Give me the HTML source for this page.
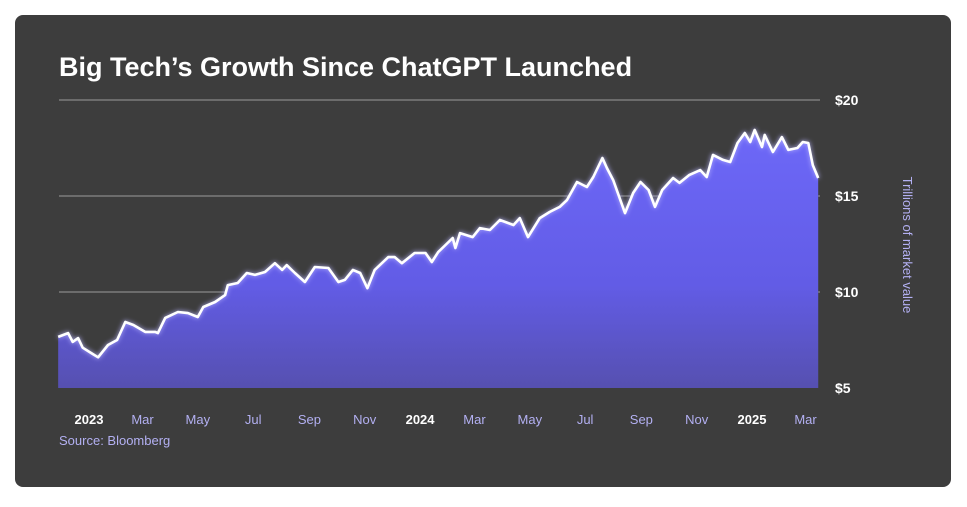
<!DOCTYPE html>
<html><head><meta charset="utf-8">
<style>
body{margin:0;background:#fff;width:967px;height:507px;overflow:hidden;font-family:"Liberation Sans",sans-serif}
#card{position:absolute;left:15px;top:15px;width:936px;height:472px;background:#3d3d3d;border-radius:8px}
</style></head><body>
<div id="card"></div>
<svg id="chart" width="967" height="507" style="position:absolute;left:0;top:0">
<defs>
<linearGradient id="ag" x1="0" y1="0" x2="0" y2="1"><stop offset="0" stop-color="#6d68f8"/><stop offset="0.6" stop-color="#625ce6"/><stop offset="1" stop-color="#5650b0"/></linearGradient>
<filter id="glow" x="-5%" y="-20%" width="110%" height="140%"><feGaussianBlur stdDeviation="2.5" result="b"/><feFlood flood-color="#b8b4ff"/><feComposite in2="b" operator="in" result="g"/><feMerge><feMergeNode in="g"/><feMergeNode in="SourceGraphic"/></feMerge></filter>
</defs>
<text x="59" y="76" fill="#fff" font-size="27" font-weight="bold">Big Tech’s Growth Since ChatGPT Launched</text>
<g id="grid"></g><g id="series"></g><g id="axes"></g>
<text transform="translate(903,245) rotate(90)" text-anchor="middle" fill="#b3b0f2" font-size="13">Trillions of market value</text>
<text x="59" y="445" fill="#b3b0f2" font-size="13">Source: Bloomberg</text>
</svg>
<script>
const days=[-34,-23,-18,-12,-7,3,10,21,31,40,49,62,73,76,84,98,109,120,126,139,150,153,164,174,183,194,205,213,218,227,238,249,264,275,282,291,299,307,315,330,337,345,359,371,378,385,393,401,404,409,423,431,442,453,468,475,484,497,508,519,527,538,549,556,566,571,578,583,591,600,608,617,624,632,644,651,662,674,681,688,699,707,715,723,729,734,742,745,754,764,771,781,787,793,798,804];
const values=[7.66,7.86,7.4,7.6,7.1,6.8,6.6,7.24,7.5,8.44,8.28,7.92,7.92,7.86,8.65,8.96,8.9,8.7,9.22,9.48,9.84,10.36,10.47,10.99,10.89,11.04,11.5,11.15,11.4,10.99,10.52,11.3,11.25,10.52,10.63,11.15,10.99,10.2,11.15,11.82,11.82,11.5,12.03,12.03,11.56,12.08,12.45,12.81,12.29,13.07,12.86,13.33,13.23,13.75,13.49,13.85,12.86,13.85,14.17,14.43,14.79,15.73,15.47,15.99,16.98,16.46,15.83,15.16,14.11,15.16,15.73,15.31,14.43,15.31,15.94,15.68,16.1,16.35,15.99,17.14,16.88,16.77,17.76,18.28,17.81,18.44,17.55,18.18,17.29,18.07,17.4,17.5,17.81,17.76,16.61,15.94];
const yTicks=[5,10,15,20];
const yTickLabels=["$5","$10","$15","$20"];
const xTickDays=[0,59,120,181,243,304,365,425,486,547,609,670,731,790];
const xTickLabels=["2023","Mar","May","Jul","Sep","Nov","2024","Mar","May","Jul","Sep","Nov","2025","Mar"];
const xTickYear=[true,false,false,false,false,false,true,false,false,false,false,false,true,false];
const NS="http://www.w3.org/2000/svg";
const X=d=>89+d*0.907;
const Y=v=>388-(v-5)*19.2;
function mk(tag,attrs,parent){const e=document.createElementNS(NS,tag);for(const k in attrs)e.setAttribute(k,attrs[k]);parent.appendChild(e);return e;}
const grid=document.getElementById('grid'),axes=document.getElementById('axes'),series=document.getElementById('series');
yTicks.forEach((t,i)=>{
 if(t>5){const l=mk('line',{x1:59,x2:820,y1:Y(t),y2:Y(t),stroke:'#9a9a9a','stroke-width':1},grid);
 
 }
 const tx=mk('text',{x:835,y:Y(t)+5,fill:'#fff','font-size':14,'font-weight':'bold'},axes);
 tx.textContent=yTickLabels[i];
 
 
});
xTickDays.forEach((d,i)=>{
 const tx=mk('text',{x:X(d),y:424,'text-anchor':'middle',fill:xTickYear[i]?'#fff':'#b3b0f2','font-size':13,'font-weight':xTickYear[i]?'bold':'normal'},axes);
 tx.textContent=xTickLabels[i];
 
 
});
let pts=days.map((d,i)=>X(d).toFixed(1)+','+Y(values[i]).toFixed(1));
const area=mk('path',{d:'M'+X(days[0])+','+Y(5)+' L'+pts.join(' L')+' L'+X(days[days.length-1])+','+Y(5)+' Z',fill:'url(#ag)'},series);


const line=mk('path',{d:'M'+pts.join(' L'),fill:'none',stroke:'#fff','stroke-width':2.6,'stroke-linejoin':'round',filter:'url(#glow)'},series);


</script>
</body></html>
